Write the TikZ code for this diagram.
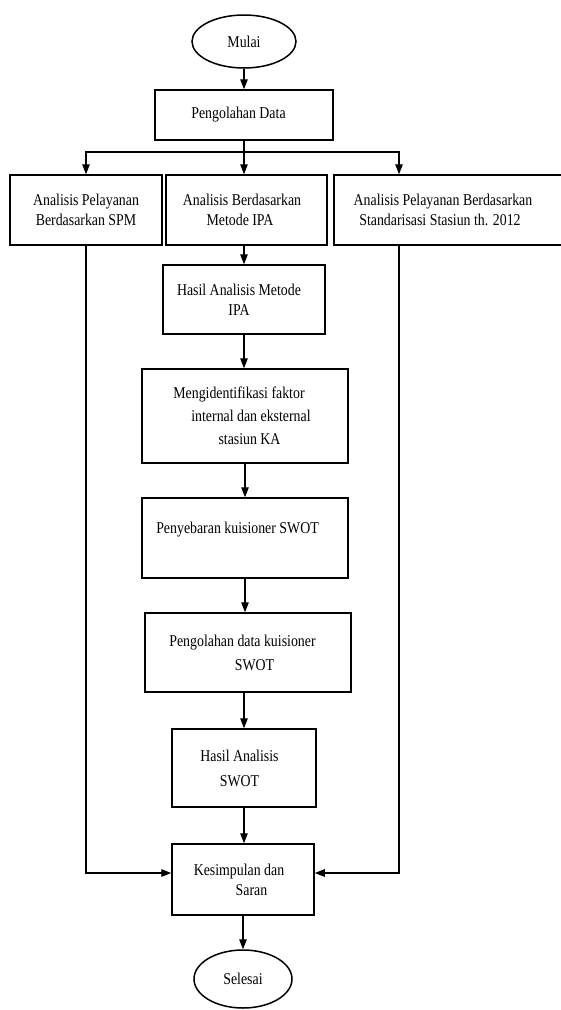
\documentclass[tikz,border=0pt]{standalone}
\usepackage{fontspec}
\setmainfont{Liberation Serif}[FakeStretch=0.84]
\usepackage{tikz}
\usetikzlibrary{shapes, arrows.meta}
\tikzset{
    block/.style={rectangle, draw, line width=1.5pt, align=center, inner sep=0pt, font=\fontsize{16.5}{20}\selectfont},
    terminal/.style={ellipse, draw, line width=1.5pt, inner sep=0pt, font=\fontsize{16.5}{20}\selectfont},
    arrow/.style={line width=1.3pt, -{Triangle[length=10pt, width=7.5pt]}}
}

\begin{document}
\begin{tikzpicture}[x=1pt, y=-1pt]
            \useasboundingbox (0,0) rectangle (560,1010);
            \node[terminal, minimum width=104pt, minimum height=53pt] (mulai) at (244,41.5) {Mulai};
            \node[block, minimum width=178pt, minimum height=50pt] (olahdata) at (244,115) {Pengolahan Data\hspace*{11pt}};

            \node[block, minimum width=152pt, minimum height=70pt] (spm) at (86,210) {Analisis Pelayanan\\Berdasarkan SPM};
            \node[block, minimum width=161pt, minimum height=70pt] (ipa) at (246.5,210) {Analisis Berdasarkan\hspace*{9pt}\\Metode IPA\hspace*{13pt}};
            \node[block, minimum width=231pt, minimum height=70pt] (standar) at (449.5,210) {Analisis Pelayanan Berdasarkan\hspace*{13pt}\\Standarisasi Stasiun th. 2012\hspace*{19pt}};

            \node[block, minimum width=162pt, minimum height=69pt] (hasilipa) at (244,299.5) {Hasil Analisis Metode\hspace*{10pt}\\IPA\hspace*{10pt}};
            \node[block, minimum width=206pt, minimum height=94pt] (faktor) at (245,416) {Mengidentifikasi faktor\hspace*{12pt}\\[3pt]\hspace*{12pt}internal dan eksternal\\[3pt]\hspace*{9pt}stasiun KA};
            \node[block, minimum width=206pt, minimum height=80pt] (kuisioner) at (245,538) {Penyebaran kuisioner SWOT\hspace*{15pt}\\~};
            \node[block, minimum width=206pt, minimum height=79pt] (olahswot) at (248,652.5) {Pengolahan data kuisioner\hspace*{11pt}\\[4pt]\hspace*{13pt}SWOT};
            \node[block, minimum width=144pt, minimum height=78pt] (hasilswot) at (244,768) {Hasil Analisis\hspace*{9pt}\\[5pt]SWOT\hspace*{9pt}};
            \node[block, minimum width=142pt, minimum height=71pt] (simpulan) at (243,879.5) {Kesimpulan dan\hspace*{8pt}\\\hspace*{17pt}Saran};
            \node[terminal, minimum width=98pt, minimum height=58pt] (selesai) at (243,979) {Selesai};

            \coordinate (cabang) at (244,152);
            \coordinate (gariskanan) at (399,0);

            \draw[arrow] (mulai) -- (olahdata);
            \draw[arrow] (olahdata.south) -- (olahdata.south |- ipa.north);
            \draw[arrow] (cabang) -| (spm.north);
            \draw[arrow] (cabang) -| (gariskanan |- standar.north);
            \draw[arrow] (hasilipa.north |- ipa.south) -- (hasilipa);
            \draw[arrow] (hasilipa.south) -- (hasilipa.south |- faktor.north);
            \draw[arrow] (faktor) -- (kuisioner);
            \draw[arrow] (kuisioner.south) -- (olahswot.north -| kuisioner.south);
            \draw[arrow] (olahswot.south -| hasilswot.north) -- (hasilswot);
            \draw[arrow] (hasilswot.south) -- (hasilswot.south |- simpulan.north);
            \draw[arrow] (simpulan) -- (selesai);
            \draw[arrow] (spm.south) |- ([yshift=6.5pt]simpulan.west);
            \draw[arrow] (gariskanan |- standar.south) |- ([yshift=6.5pt]simpulan.east);
        \end{tikzpicture}
\end{document}
